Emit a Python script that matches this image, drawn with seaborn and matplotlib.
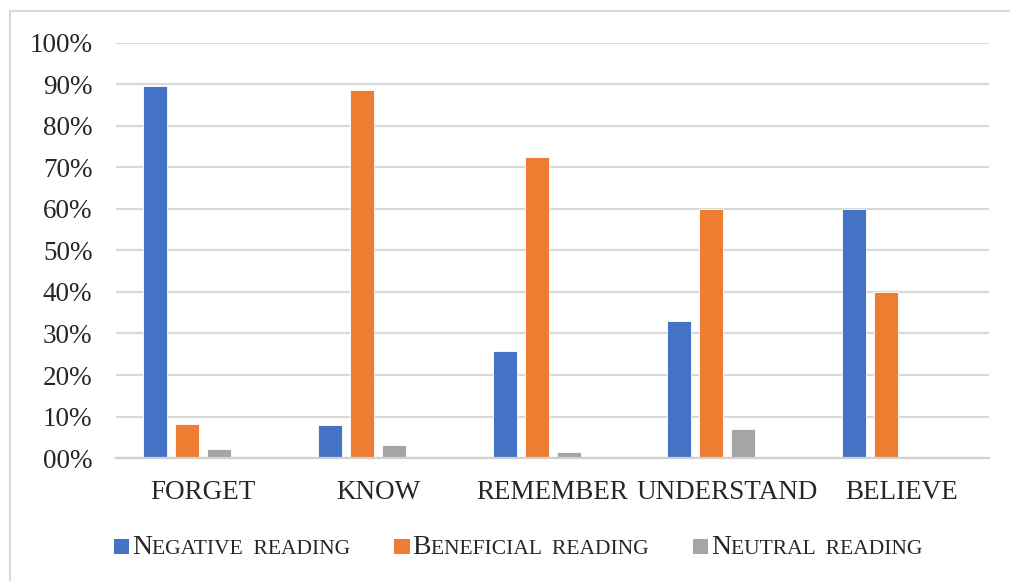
import matplotlib
matplotlib.use("Agg")
import matplotlib.pyplot as plt
from matplotlib.lines import Line2D
from matplotlib.patches import Rectangle
from matplotlib.offsetbox import AnchoredOffsetbox, DrawingArea, HPacker, TextArea
import numpy as np
import pandas as pd
import seaborn as sns

# data
categories = ["FORGET", "KNOW", "REMEMBER", "UNDERSTAND", "BELIEVE"]
negative = [0.896, 0.080, 0.258, 0.330, 0.600]
beneficial = [0.082, 0.887, 0.725, 0.600, 0.400]
neutral = [0.022, 0.031, 0.015, 0.070, 0.0]
series = ["Negative reading", "Beneficial reading", "Neutral reading"]
legend_caps = [("N", "EGATIVE  READING"), ("B", "ENEFICIAL  READING"), ("N", "EUTRAL  READING")]
colors = ["#4472C4", "#ED7D31", "#A5A5A5"]
yticks = np.arange(0, 1.01, 0.1)
ytick_labels = ["00%", "10%", "20%", "30%", "40%", "50%", "60%", "70%", "80%", "90%", "100%"]

df = pd.DataFrame({
    "category": categories * 3,
    "value": negative + beneficial + neutral,
    "series": [s for s in series for _ in categories],
})

sns.set_theme(style="white")
plt.rcParams["font.family"] = ["Liberation Serif", "DejaVu Serif"]

fig = plt.figure(figsize=(10.1, 5.81), dpi=100)
ax = fig.add_axes([0.1149, 0.2117, 0.8643, 0.7143])

# an empty fourth hue level keeps Excel's slot layout (groups sit left of the label)
sns.barplot(
    data=df, x="category", y="value", hue="series",
    order=categories, hue_order=series + ["_spacer"],
    palette=colors + ["white"], saturation=1, width=0.733, gap=0.25,
    edgecolor="white", linewidth=0.6, legend=False, ax=ax,
)

ax.set_xlim(-0.5, 4.5)
ax.set_ylim(0, 1.0)
ax.set_yticks(yticks)
ax.set_yticklabels(ytick_labels)
ax.set_xlabel("")
ax.set_ylabel("")
ax.yaxis.grid(True, color="#d9d9d9", linewidth=1.6)
ax.set_axisbelow(True)
for side in ["top", "right", "left"]:
    ax.spines[side].set_visible(False)
ax.spines["bottom"].set_color("#d0d0d0")
ax.spines["bottom"].set_linewidth(1.6)
ax.tick_params(axis="y", length=0, pad=17, labelsize=19.5, labelcolor="#262626")
ax.tick_params(axis="x", length=0, pad=16, labelsize=19.5, labelcolor="#262626")

# legend with small caps lettering
items = []
for (big, small), col in zip(legend_caps, colors):
    box = DrawingArea(11, 11, 0, 0)
    box.add_artist(Rectangle((0, 0), 11, 11, facecolor=col, edgecolor="none"))
    label = HPacker(children=[
        TextArea(big, textprops=dict(size=20, color="#262626")),
        TextArea(small, textprops=dict(size=15.5, color="#262626")),
    ], align="baseline", pad=0, sep=0)
    items.append(HPacker(children=[box, label], align="baseline", pad=0, sep=2))
legend_box = HPacker(children=items, align="baseline", pad=0, sep=32)
anchored = AnchoredOffsetbox(loc="center", child=legend_box, frameon=False,
                             bbox_to_anchor=(0.513, 0.057), bbox_transform=fig.transFigure,
                             borderpad=0, pad=0)
fig.add_artist(anchored)

# outer chart frame (left and top edges visible in the crop)
fig.add_artist(Line2D([10 / 1010, 10 / 1010], [0, 1 - 11 / 581], color="#d9d9d9", linewidth=1.5))
fig.add_artist(Line2D([10 / 1010, 1], [1 - 11 / 581, 1 - 11 / 581], color="#d9d9d9", linewidth=1.5))

fig.savefig("out.png", dpi=100)
